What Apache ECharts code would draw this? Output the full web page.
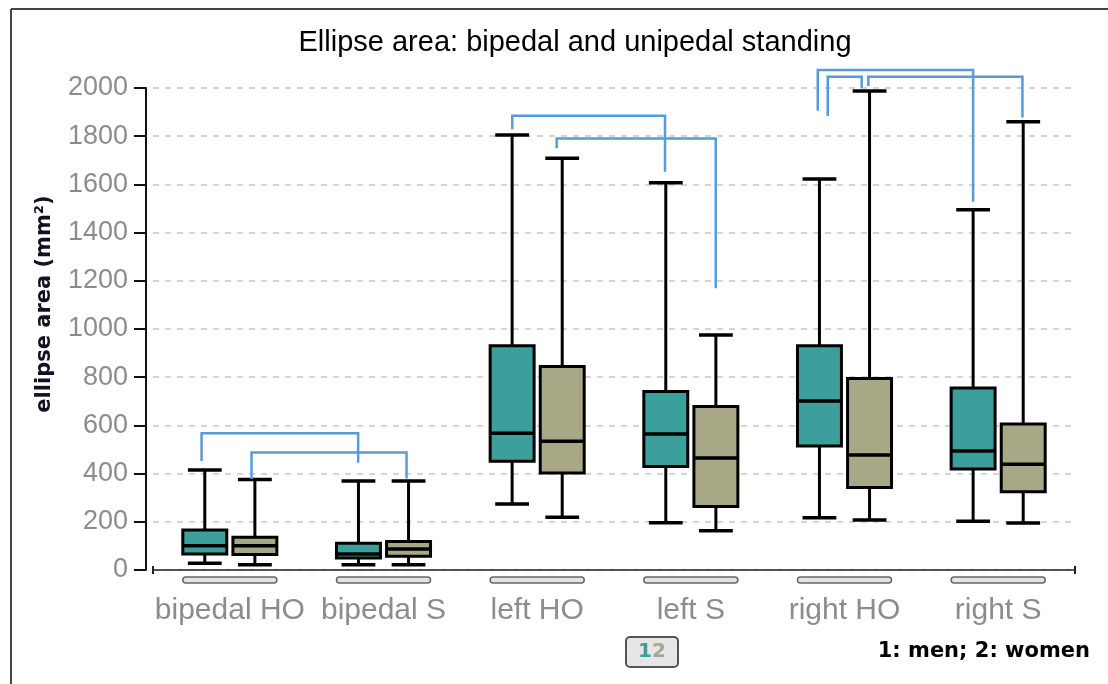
<!DOCTYPE html>
<html>
<head>
<meta charset="utf-8">
<script src="https://cdn.jsdelivr.net/npm/echarts@6/dist/echarts.min.js"></script>
<style>
  html, body { margin: 0; padding: 0; background: #fff; }
  #main { width: 1108px; height: 684px; }
</style>
</head>
<body>
<div id="main"></div>
<script>
// categories on the x axis
var categories = ['bipedal HO', 'bipedal S', 'left HO', 'left S', 'right HO', 'right S'];
var yTicks = [0, 200, 400, 600, 800, 1000, 1200, 1400, 1600, 1800, 2000];

// 1: men
var menMin    = [28, 22, 274, 196, 217, 202];
var menQ1     = [66, 50, 451, 429, 515, 419];
var menMedian = [101, 66, 567, 564, 701, 494];
var menQ3     = [166, 111, 931, 741, 931, 755];
var menMax    = [415, 369, 1805, 1607, 1622, 1495];

// 2: women
var womenMin    = [22, 22, 219, 163, 207, 195];
var womenQ1     = [64, 57, 402, 263, 342, 325];
var womenMedian = [101, 87, 534, 465, 477, 439];
var womenQ3     = [136, 118, 844, 678, 795, 606];
var womenMax    = [376, 369, 1708, 975, 1988, 1860];

// significance brackets (x in category units, y in mm2)
var bracketStartX = [-0.184, 0.141, 1.838, 2.127, 3.826, 3.891, 4.155];
var bracketStartY = [452, 378, 1829, 1750, 1906, 1884, 2008];
var bracketBarY   = [567, 488, 1885, 1790, 2075, 2047, 2047];
var bracketEndX   = [0.835, 1.150, 2.832, 3.162, 4.837, 4.112, 5.158];
var bracketEndY   = [445, 380, 1653, 1169, 1528, 1999, 1878];

var chart = echarts.init(document.getElementById('main'));

function boxRows(mn, q1, md, q3, mx) {
  return categories.map(function (c, i) { return [i, mn[i], q1[i], md[i], q3[i], mx[i]]; });
}

// x pixel for a fractional category position
function xPix(api, x) {
  var i = Math.round(x);
  return api.coord([i, 0])[0] + (x - i) * api.size([1, 0])[0];
}

function boxRenderer(shift, fill) {
  return function (params, api) {
    var i = api.value(0);
    var band = api.size([1, 0])[0];
    var cx = api.coord([i, 0])[0] + shift * band;
    var py = function (k) { return api.coord([i, api.value(k)])[1]; };
    var yMin = py(1), yQ1 = py(2), yMed = py(3), yQ3 = py(4), yMax = py(5);
    var bw = band * 0.286, cw = band * 0.22;
    var ls = { stroke: '#000', lineWidth: 3 };
    return {
      type: 'group',
      children: [
        { type: 'line', shape: { x1: cx, y1: yMax, x2: cx, y2: yMin }, style: ls },
        { type: 'line', shape: { x1: cx - cw / 2, y1: yMax, x2: cx + cw / 2, y2: yMax }, style: { stroke: '#000', lineWidth: 3.5 } },
        { type: 'line', shape: { x1: cx - cw / 2, y1: yMin, x2: cx + cw / 2, y2: yMin }, style: { stroke: '#000', lineWidth: 3.5 } },
        { type: 'rect', shape: { x: cx - bw / 2, y: yQ3, width: bw, height: yQ1 - yQ3 }, style: { fill: fill, stroke: '#000', lineWidth: 3 } },
        { type: 'line', shape: { x1: cx - bw / 2, y1: yMed, x2: cx + bw / 2, y2: yMed }, style: { stroke: '#000', lineWidth: 3.5 } }
      ]
    };
  };
}

var bracketRows = bracketStartX.map(function (x, i) {
  return [x, bracketStartY[i], bracketBarY[i], bracketEndX[i], bracketEndY[i]];
});

var option = {
  animation: false,
  backgroundColor: '#fff',
  grid: { left: 153, right: 33, top: 88, bottom: 114 },
  xAxis: {
    type: 'category',
    data: categories,
    offset: 10,
    axisLine: {
      lineStyle: { color: '#222', width: 1.5 },
      symbol: ['rect', 'rect'],
      symbolSize: [8, 2]
    },
    axisTick: { show: false },
    axisLabel: { color: '#8c8c8c', fontSize: 30, margin: 16, interval: 0, fontFamily: 'Liberation Sans' },
    splitLine: { show: false }
  },
  yAxis: {
    type: 'value',
    min: yTicks[0],
    max: yTicks[yTicks.length - 1],
    interval: yTicks[1] - yTicks[0],
    offset: 7,
    axisLine: { show: true, lineStyle: { color: '#111', width: 2 } },
    axisTick: { show: true, length: 12, lineStyle: { color: '#111', width: 2 } },
    axisLabel: {
      color: '#8c8c8c', fontSize: 27, margin: 18, fontFamily: 'Liberation Sans',
      formatter: function (v) { return String(v); }
    },
    splitLine: { lineStyle: { color: '#c8c8c8', width: 1.5, type: [6, 6] } }
  },
  series: [
    {
      name: 'axis ranges',
      type: 'custom',
      silent: true,
      data: categories.map(function (c, i) { return [i]; }),
      encode: { x: 0 },
      renderItem: function (params, api) {
        var i = api.value(0);
        var band = api.size([1, 0])[0];
        var cx = api.coord([i, 0])[0];
        var y0 = api.coord([i, 0])[1] + 10;
        return {
          type: 'rect',
          shape: { x: cx - band * 0.306, y: y0 - 3, width: band * 0.612, height: 6, r: 3 },
          style: { fill: '#e4e4e4', stroke: '#666', lineWidth: 1.5 }
        };
      }
    },
    {
      name: 'men',
      type: 'custom',
      data: boxRows(menMin, menQ1, menMedian, menQ3, menMax),
      encode: { x: 0, y: [1, 2, 3, 4, 5] },
      renderItem: boxRenderer(-0.163, '#3c9f9c')
    },
    {
      name: 'women',
      type: 'custom',
      data: boxRows(womenMin, womenQ1, womenMedian, womenQ3, womenMax),
      encode: { x: 0, y: [1, 2, 3, 4, 5] },
      renderItem: boxRenderer(0.163, '#a9a886')
    },
    {
      name: 'brackets',
      type: 'custom',
      silent: true,
      data: bracketRows,
      encode: { x: [0, 3], y: [1, 2, 4] },
      renderItem: function (params, api) {
        var x1 = xPix(api, api.value(0)), x2 = xPix(api, api.value(3));
        var y1 = api.coord([0, api.value(1)])[1];
        var yb = api.coord([0, api.value(2)])[1];
        var y2 = api.coord([0, api.value(4)])[1];
        return {
          type: 'polyline',
          shape: { points: [[x1, y1], [x1, yb], [x2, yb], [x2, y2]] },
          style: { stroke: '#5b9bd5', lineWidth: 2.5, fill: null }
        };
      }
    }
  ],
  graphic: [
    { type: 'line', shape: { x1: 11, y1: 9, x2: 11, y2: 684 }, style: { stroke: '#444', lineWidth: 2 } },
    { type: 'line', shape: { x1: 11, y1: 9, x2: 1108, y2: 9 }, style: { stroke: '#444', lineWidth: 2 } },
    {
      type: 'text', x: 575, y: 43,
      style: { text: 'Ellipse area: bipedal and unipedal standing', font: '29px "Liberation Sans"', fill: '#000', textAlign: 'center', textVerticalAlign: 'middle' }
    },
    {
      type: 'text', x: 45, y: 304, rotation: Math.PI / 2,
      style: { text: 'ellipse area (mm²)', font: 'bold 21px "DejaVu Sans"', fill: '#111122', textAlign: 'center', textVerticalAlign: 'middle' }
    },
    {
      type: 'rect', shape: { x: 626, y: 637, width: 52, height: 30, r: 4 },
      style: { fill: '#e6e6e6', stroke: '#555', lineWidth: 2 }
    },
    { type: 'text', x: 645, y: 652, style: { text: '1', font: 'bold 20px "DejaVu Sans"', fill: '#3c9f9c', textAlign: 'center', textVerticalAlign: 'middle' } },
    { type: 'text', x: 659, y: 652, style: { text: '2', font: 'bold 20px "DejaVu Sans"', fill: '#a9a886', textAlign: 'center', textVerticalAlign: 'middle' } },
    {
      type: 'text', x: 1090, y: 652,
      style: { text: '1: men; 2: women', font: 'bold 21px "DejaVu Sans"', fill: '#000', textAlign: 'right', textVerticalAlign: 'middle' }
    }
  ]
};

chart.setOption(option);
</script>
</body>
</html>
